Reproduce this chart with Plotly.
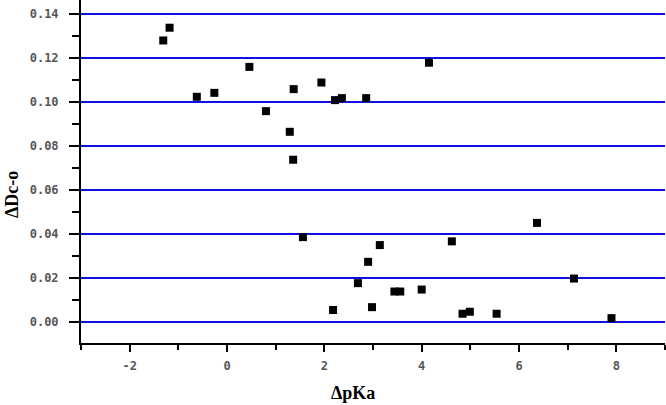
import plotly.graph_objects as go

# Data
delta_pka = [-1.31, -1.18, -0.62, -0.26, 0.46, 0.80, 1.29, 1.36, 1.37, 1.94,
             2.22, 2.36, 2.86, 4.15, 1.56, 3.14, 2.90, 2.69, 2.18, 2.98,
             3.44, 3.56, 4.00, 4.62, 4.84, 4.99, 5.54, 6.37, 7.13, 7.90]
delta_dco = [0.1280, 0.1338, 0.1024, 0.1042, 0.1160, 0.0959, 0.0865, 0.0738, 0.1059, 0.1089,
             0.1009, 0.1018, 0.1018, 0.1179, 0.0386, 0.0350, 0.0274, 0.0177, 0.0055, 0.0068,
             0.0139, 0.0139, 0.0148, 0.0367, 0.0038, 0.0047, 0.0038, 0.0451, 0.0198, 0.0018]

x_ticks = [-2, 0, 2, 4, 6, 8]
x_tick_labels = ["-2", "0", "2", "4", "6", "8"]
y_ticks = [0.00, 0.02, 0.04, 0.06, 0.08, 0.10, 0.12, 0.14]
y_tick_labels = ["0.00", "0.02", "0.04", "0.06", "0.08", "0.10", "0.12", "0.14"]

fig = go.Figure()
fig.add_trace(go.Scatter(
    x=delta_pka, y=delta_dco, mode="markers",
    marker=dict(symbol="square", size=8, color="black", line=dict(width=0)),
    showlegend=False, cliponaxis=False,
))

tickfont = dict(family="DejaVu Sans Mono", size=12, color="#555555", weight="bold")

fig.update_layout(
    width=666, height=405,
    margin=dict(l=81, r=1, t=0, b=62),
    paper_bgcolor="white", plot_bgcolor="white",
    xaxis=dict(
        range=[-3, 9], tickvals=x_ticks, ticktext=x_tick_labels,
        automargin=False,
        showgrid=False, zeroline=False,
        showline=True, linecolor="black", linewidth=2,
        ticks="outside", ticklen=7, tickwidth=2, tickcolor="black",
        tickfont=tickfont, ticklabelstandoff=4,
        minor=dict(dtick=1, tick0=-3, ticks="outside", ticklen=5, tickwidth=2, tickcolor="black", showgrid=False),
    ),
    yaxis=dict(
        range=[-0.0095, 0.1464], tickvals=y_ticks, ticktext=y_tick_labels,
        automargin=False,
        showgrid=True, gridcolor="#1010e6", gridwidth=2,
        zeroline=False,
        showline=True, linecolor="black", linewidth=2,
        ticks="outside", ticklen=10, tickwidth=2, tickcolor="black",
        tickfont=tickfont, ticklabelstandoff=8,
        minor=dict(dtick=0.01, tick0=0.01, ticks="outside", ticklen=7, tickwidth=2, tickcolor="black", showgrid=False),
    ),
    annotations=[
        dict(text="ΔpKa", xref="paper", yref="paper", x=(353 - 81) / 584, y=-(393 - 343) / 343,
             showarrow=False, xanchor="center", yanchor="middle",
             font=dict(family="Liberation Serif", size=18, color="black", weight="bold")),
        dict(text="ΔDc-o", xref="paper", yref="paper", x=-(81 - 12) / 584, y=(343 - 195) / 343,
             showarrow=False, xanchor="center", yanchor="middle", textangle=-90,
             font=dict(family="Liberation Serif", size=18, color="black", weight="bold")),
    ],
)

fig.write_html("out.html", config={"displayModeBar": False},
               post_script="document.body.style.margin='0';")
